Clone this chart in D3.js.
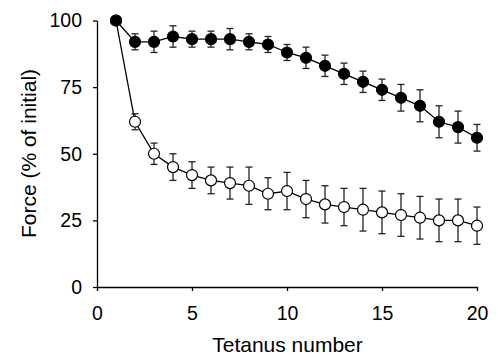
<!DOCTYPE html>
<html>
<head>
<meta charset="utf-8">
<script src="https://cdn.jsdelivr.net/npm/d3@7"></script>
<style>
  html, body { margin: 0; padding: 0; background: #fff; }
  svg { display: block; font-family: "Liberation Sans", Arial, sans-serif; }
</style>
</head>
<body>
<svg id="chart" width="498" height="357"></svg>
<script>
// ---- data ----
const tetanus = [1,2,3,4,5,6,7,8,9,10,11,12,13,14,15,16,17,18,19,20];
const filledMean = [100,92,92,94,93,93,93,92,91,88,86,83,80,77,74,71,68,62,60,56];
const filledErr  = [0,3,4,4,3,3,4,3,3,3,4,4,4,4,4,5,6,6,6,5];
const openMean   = [100,62,50,45,42,40,39,38,35,36,33,31,30,29,28,27,26,25,25,23];
const openErr    = [0,3,4,5,5,5,6,7,6,7,7,7,7,8,8,8,8,8,8,7];
const xTicks = [0,5,10,15,20];
const yTicks = [0,25,50,75,100];
const xTitle = "Tetanus number";
const yTitle = "Force (% of initial)";

// ---- layout ----
const svg = d3.select("#chart");
const x = d3.scaleLinear().domain([0,20]).range([97,477]);
const y = d3.scaleLinear().domain([0,100]).range([287,20.5]);
const tickFont = "19.5px";
const titleFont = "21px";

// axes
const yAxis = d3.axisLeft(y).tickValues(yTicks).tickSize(4).tickPadding(11).tickSizeOuter(0);
const gy = svg.append("g").attr("transform", `translate(${x(0)},0)`).call(yAxis);
const xAxis = d3.axisBottom(x).tickValues(xTicks).tickSize(4).tickPadding(15).tickSizeOuter(0);
const gx = svg.append("g").attr("transform", `translate(0,${y(0)})`).call(xAxis);
[gx, gy].forEach(g => {
  g.select(".domain").attr("stroke", "#000").attr("stroke-width", 1.3);
  g.selectAll(".tick line").attr("stroke", "#000").attr("stroke-width", 1.3);
  g.selectAll(".tick text").attr("fill", "#000").style("font-size", tickFont)
    .style("font-family", '"Liberation Sans", Arial, sans-serif');
});

// titles
svg.append("text").attr("x", 287.5).attr("y", 352)
  .attr("text-anchor", "middle").style("font-size", titleFont).attr("fill", "#000").text(xTitle);
svg.append("text").attr("transform", `translate(35.5,153.5) rotate(-90)`)
  .attr("text-anchor", "middle").style("font-size", titleFont).attr("fill", "#000").text(yTitle);

// series
const series = [
  {mean: openMean, err: openErr, fill: "#fff"},
  {mean: filledMean, err: filledErr, fill: "#000"}
];
const line = d3.line().x(d => x(d.t)).y(d => y(d.v));
const r = 5.5, cap = 3.5;

series.forEach(s => {
  const pts = tetanus.map((t,i) => ({t, v: s.mean[i], e: s.err[i]}));
  const g = svg.append("g");
  g.append("path").datum(pts).attr("d", line)
    .attr("fill", "none").attr("stroke", "#000").attr("stroke-width", 1.3);
  const eb = g.selectAll(".eb").data(pts.filter(d => d.e > 0)).join("g").attr("class","eb");
  eb.append("line").attr("x1", d => x(d.t)).attr("x2", d => x(d.t))
    .attr("y1", d => y(d.v + d.e)).attr("y2", d => y(d.v - d.e));
  eb.append("line").attr("x1", d => x(d.t)-cap).attr("x2", d => x(d.t)+cap)
    .attr("y1", d => y(d.v + d.e)).attr("y2", d => y(d.v + d.e));
  eb.append("line").attr("x1", d => x(d.t)-cap).attr("x2", d => x(d.t)+cap)
    .attr("y1", d => y(d.v - d.e)).attr("y2", d => y(d.v - d.e));
  eb.selectAll("line").attr("stroke", "#222").attr("stroke-width", 1.3);
  s.pts = pts; s.g = g;
});
series.forEach(s => {
  s.g.selectAll("circle").data(s.pts).join("circle")
    .attr("cx", d => x(d.t)).attr("cy", d => y(d.v)).attr("r", r)
    .attr("fill", s.fill).attr("stroke", "#000").attr("stroke-width", 1.2);
});
</script>
</body>
</html>
